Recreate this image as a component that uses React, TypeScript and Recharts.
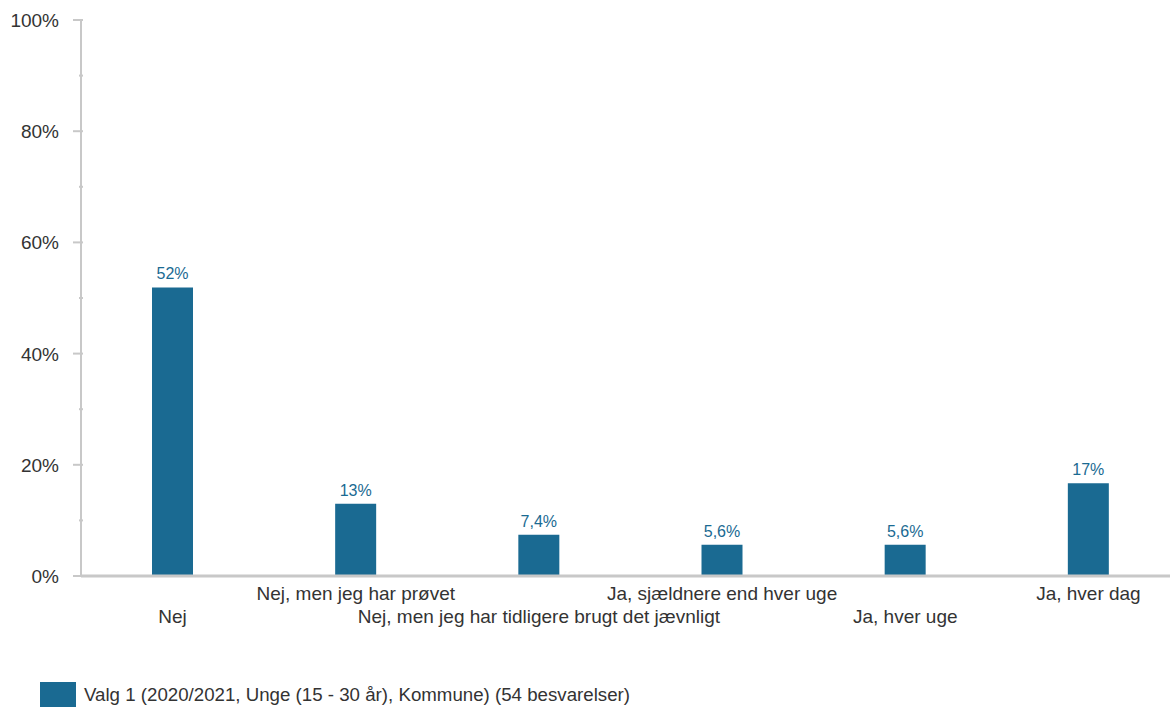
import { BarChart, Bar, XAxis, YAxis, LabelList } from 'recharts'

const categories = [
  'Nej',
  'Nej, men jeg har prøvet',
  'Nej, men jeg har tidligere brugt det jævnligt',
  'Ja, sjældnere end hver uge',
  'Ja, hver uge',
  'Ja, hver dag',
]
const values = [51.9, 13.0, 7.4, 5.6, 5.6, 16.7]
const yTicks = [0, 10, 20, 30, 40, 50, 60, 70, 80, 90, 100]
const seriesName = 'Valg 1 (2020/2021, Unge (15 - 30 år), Kommune) (54 besvarelser)'

const BLUE = '#1a6a92'
const AXIS = '#c8c8c8'
const TEXT = '#333333'
const FONT = '"Liberation Sans", Arial, sans-serif'

const data = categories.map((name, i) => ({ name, value: values[i] }))

const fmt = (v: number) =>
  v >= 10 ? `${Math.round(v)}%` : `${v.toFixed(1).replace('.', ',')}%`

function YTick(props: any) {
  const { x, y, payload } = props
  const major = payload.value % 20 === 0
  return (
    <g>
      <line x1={x + (major ? 0 : 6)} x2={x + 10} y1={y} y2={y} stroke={AXIS} strokeWidth={2} />
      {major && (
        <text x={x - 14} y={y} dy={7} textAnchor="end" fill={TEXT} fontSize={19} fontFamily={FONT}>
          {payload.value}%
        </text>
      )}
    </g>
  )
}

function XTick(props: any) {
  const { x, y, payload, index } = props
  const lower = index % 2 === 0
  return (
    <text x={x} y={y + (lower ? 33 : 10)} dy={6} textAnchor="middle" fill={TEXT} fontSize={19} fontFamily={FONT}>
      {payload.value}
    </text>
  )
}

export default function App() {
  return (
    <div style={{ position: 'absolute', left: 0, top: 0, width: 1170, height: 708, background: '#fff', overflow: 'hidden' }}>
      <BarChart
        width={1170}
        height={708}
        data={data}
        margin={{ top: 20, right: -10, left: 0, bottom: 72 }}
      >
        <XAxis
          dataKey="name"
          interval={0}
          tick={<XTick />}
          tickLine={false}
          axisLine={{ stroke: AXIS, strokeWidth: 3 }}
          height={60}
        />
        <YAxis
          domain={[0, 100]}
          ticks={yTicks}
          interval={0}
          tick={<YTick />}
          tickLine={false}
          axisLine={{ stroke: AXIS, strokeWidth: 2 }}
          width={81}
        />
        <Bar dataKey="value" name={seriesName} fill={BLUE} barSize={41} isAnimationActive={false}>
          <LabelList
            dataKey="value"
            position="top"
            offset={8}
            formatter={(v: any) => fmt(Number(v))}
            fill={BLUE}
            fontSize={16}
            fontFamily={FONT}
          />
        </Bar>
      </BarChart>
      <div
        style={{
          position: 'absolute',
          left: 40,
          top: 682,
          display: 'flex',
          alignItems: 'center',
          fontFamily: FONT,
          fontSize: 18.7,
          color: TEXT,
          whiteSpace: 'nowrap',
        }}
      >
        <div style={{ width: 36, height: 25, background: BLUE, marginRight: 8 }} />
        <span>{seriesName}</span>
      </div>
    </div>
  )
}
